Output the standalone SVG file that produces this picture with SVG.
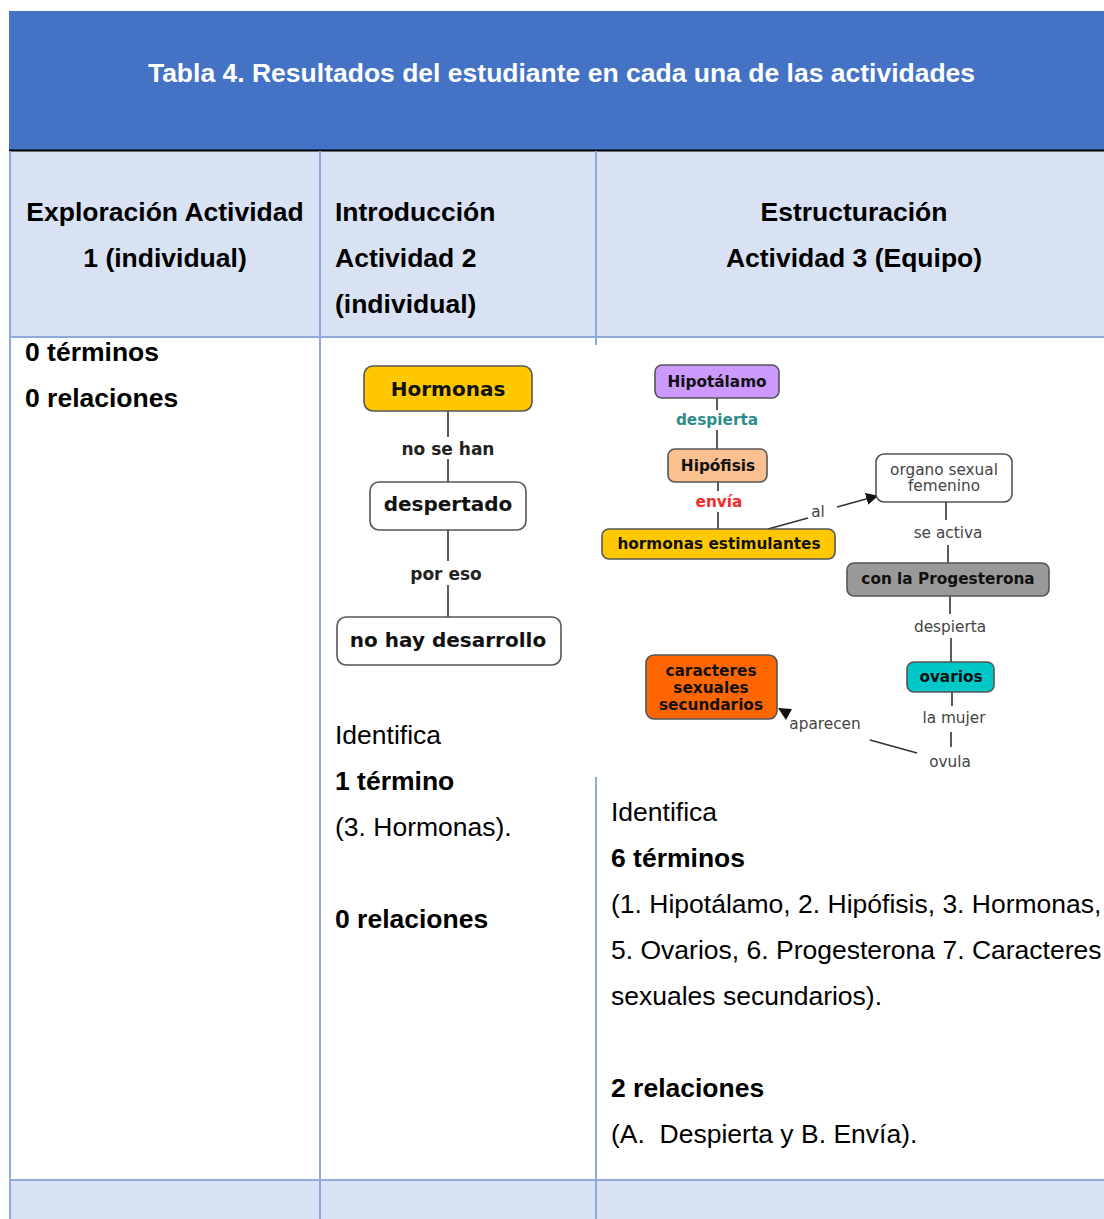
<svg xmlns="http://www.w3.org/2000/svg" width="1104" height="1219" viewBox="0 0 1104 1219">
<style>
.t{font-family:"Liberation Sans",Arial,sans-serif;font-size:26.5px;fill:#000}
.b{font-weight:bold}
.grid{stroke:#8EAADB;stroke-width:2;fill:none}
.m{font-family:"DejaVu Sans",Verdana,sans-serif;text-anchor:middle}
.nb{font-size:20px;font-weight:bold;fill:#111}
.l1{font-size:17px;font-weight:bold;fill:#222}
.nb2{font-size:15.3px;font-weight:bold;fill:#111}
.l2{font-size:15.3px;fill:#444}
.box{stroke:#555;stroke-width:1.6}
.con{stroke:#333;stroke-width:1.6;fill:none}
</style>
<defs>
<marker id="ah" viewBox="0 0 10 10" refX="9" refY="5" markerWidth="12" markerHeight="12" markerUnits="userSpaceOnUse" orient="auto">
<path d="M0,0 L10,5 L0,10 z" fill="#111"/>
</marker>
</defs>
<rect width="1104" height="1219" fill="#fff"/>
<!-- table -->
<g id="table">
<rect x="9" y="11" width="1095" height="139" fill="#4472C4"/>
<rect x="10" y="151" width="1094" height="186" fill="#D9E2F3"/>
<rect x="10" y="1180" width="1094" height="39" fill="#D9E2F3"/>
<line x1="9" y1="150.5" x2="1104" y2="150.5" stroke="#000" stroke-width="2"/>
<line class="grid" x1="10" y1="151" x2="10" y2="1219"/>
<line class="grid" x1="320" y1="151" x2="320" y2="1219"/>
<line class="grid" x1="596" y1="151" x2="596" y2="345"/>
<line class="grid" x1="596" y1="777" x2="596" y2="1219"/>
<line class="grid" x1="10" y1="337" x2="1104" y2="337"/>
<line class="grid" x1="10" y1="1180" x2="1104" y2="1180"/>
<text class="t b" x="561.5" y="82" text-anchor="middle" fill="#fff" style="fill:#fff">Tabla 4. Resultados del estudiante en cada una de las actividades</text>
<text class="t b" x="165" y="221" text-anchor="middle">Exploración Actividad</text>
<text class="t b" x="165" y="267" text-anchor="middle">1 (individual)</text>
<text class="t b" x="335" y="221">Introducción</text>
<text class="t b" x="335" y="267">Actividad 2</text>
<text class="t b" x="335" y="313">(individual)</text>
<text class="t b" x="854" y="221" text-anchor="middle">Estructuración</text>
<text class="t b" x="854" y="267" text-anchor="middle">Actividad 3 (Equipo)</text>
<text class="t b" x="25" y="361">0 términos</text>
<text class="t b" x="25" y="407">0 relaciones</text>
<text class="t" x="335" y="744">Identifica</text>
<text class="t b" x="335" y="790">1 término</text>
<text class="t" x="335" y="836">(3. Hormonas).</text>
<text class="t b" x="335" y="928">0 relaciones</text>
<text class="t" x="611" y="821">Identifica</text>
<text class="t b" x="611" y="867">6 términos</text>
<text class="t" x="611" y="913">(1. Hipotálamo, 2. Hipófisis, 3. Hormonas,</text>
<text class="t" x="611" y="959">5. Ovarios, 6. Progesterona 7. Caracteres</text>
<text class="t" x="611" y="1005">sexuales secundarios).</text>
<text class="t b" x="611" y="1097">2 relaciones</text>
<text class="t" x="611" y="1143" xml:space="preserve">(A.  Despierta y B. Envía).</text>
</g>
<!-- connectors -->
<g id="connectors">
<line class="con" x1="448" y1="411" x2="448" y2="437"/>
<line class="con" x1="448" y1="459" x2="448" y2="482"/>
<line class="con" x1="448" y1="530" x2="448" y2="561"/>
<line class="con" x1="448" y1="585" x2="448" y2="617"/>
<line class="con" x1="717" y1="398" x2="717" y2="410"/>
<line class="con" x1="717" y1="430" x2="717" y2="449"/>
<line class="con" x1="718" y1="482" x2="718" y2="491"/>
<line class="con" x1="718" y1="512" x2="718" y2="529"/>
<line class="con" x1="768" y1="529" x2="808" y2="518"/>
<line class="con" x1="837" y1="507" x2="877" y2="496" marker-end="url(#ah)"/>
<line class="con" x1="946" y1="502" x2="946" y2="520"/>
<line class="con" x1="948" y1="545" x2="948" y2="563"/>
<line class="con" x1="950" y1="596" x2="950" y2="614"/>
<line class="con" x1="951" y1="638" x2="951" y2="662"/>
<line class="con" x1="952" y1="692" x2="952" y2="706"/>
<line class="con" x1="951" y1="732" x2="951" y2="747"/>
<line class="con" x1="917" y1="753" x2="870" y2="740"/>
<path d="M778,708 L792,709 L786,720 z" fill="#111"/>
<text class="m l1" x="448" y="455">no se han</text>
<text class="m l1" x="446" y="580">por eso</text>
<text class="m nb2" x="717" y="425" style="fill:#2E8C8C">despierta</text>
<text class="m nb2" x="719" y="507" style="fill:#F52A2A">envía</text>
<text class="m l2" x="818" y="517">al</text>
<text class="m l2" x="948" y="538">se activa</text>
<text class="m l2" x="950" y="632">despierta</text>
<text class="m l2" x="954" y="723">la mujer</text>
<text class="m l2" x="950" y="767">ovula</text>
<text class="m l2" x="825" y="729">aparecen</text>
</g>
<!-- map 1 nodes -->
<g id="n-hormonas">
<rect class="box" x="364" y="366" width="168" height="45" rx="9" fill="#FFC800"/>
<text class="m nb" x="448" y="396">Hormonas</text>
</g>
<g id="n-despertado">
<rect class="box" x="370" y="482" width="156" height="48" rx="9" fill="#fff"/>
<text class="m nb" x="448" y="511">despertado</text>
</g>
<g id="n-nohay">
<rect class="box" x="337" y="617" width="224" height="48" rx="9" fill="#fff"/>
<text class="m nb" x="448" y="647">no hay desarrollo</text>
</g>
<!-- map 2 nodes -->
<g id="n-hipotalamo">
<rect class="box" x="655" y="365" width="124" height="33" rx="7" fill="#CC99FF"/>
<text class="m nb2" x="717" y="387">Hipotálamo</text>
</g>
<g id="n-hipofisis">
<rect class="box" x="668" y="449" width="99" height="33" rx="7" fill="#FBC08F"/>
<text class="m nb2" x="718" y="471">Hipófisis</text>
</g>
<g id="n-hormonas-est">
<rect class="box" x="602" y="529" width="233" height="30" rx="7" fill="#FFC800"/>
<text class="m nb2" x="719" y="549">hormonas estimulantes</text>
</g>
<g id="n-organo">
<rect class="box" x="876" y="454" width="136" height="48" rx="8" fill="#fff"/>
<text class="m l2" x="944" y="475">organo sexual</text>
<text class="m l2" x="944" y="491">femenino</text>
</g>
<g id="n-progesterona">
<rect class="box" x="847" y="563" width="202" height="33" rx="7" fill="#999999"/>
<text class="m nb2" x="948" y="584">con la Progesterona</text>
</g>
<g id="n-ovarios">
<rect class="box" x="907" y="662" width="87" height="30" rx="7" fill="#00C8C8"/>
<text class="m nb2" x="951" y="682">ovarios</text>
</g>
<g id="n-caracteres">
<rect class="box" x="646" y="655" width="131" height="64" rx="8" fill="#FF6600"/>
<text class="m nb2" x="711" y="676">caracteres</text>
<text class="m nb2" x="711" y="693">sexuales</text>
<text class="m nb2" x="711" y="710">secundarios</text>
</g>
</svg>
